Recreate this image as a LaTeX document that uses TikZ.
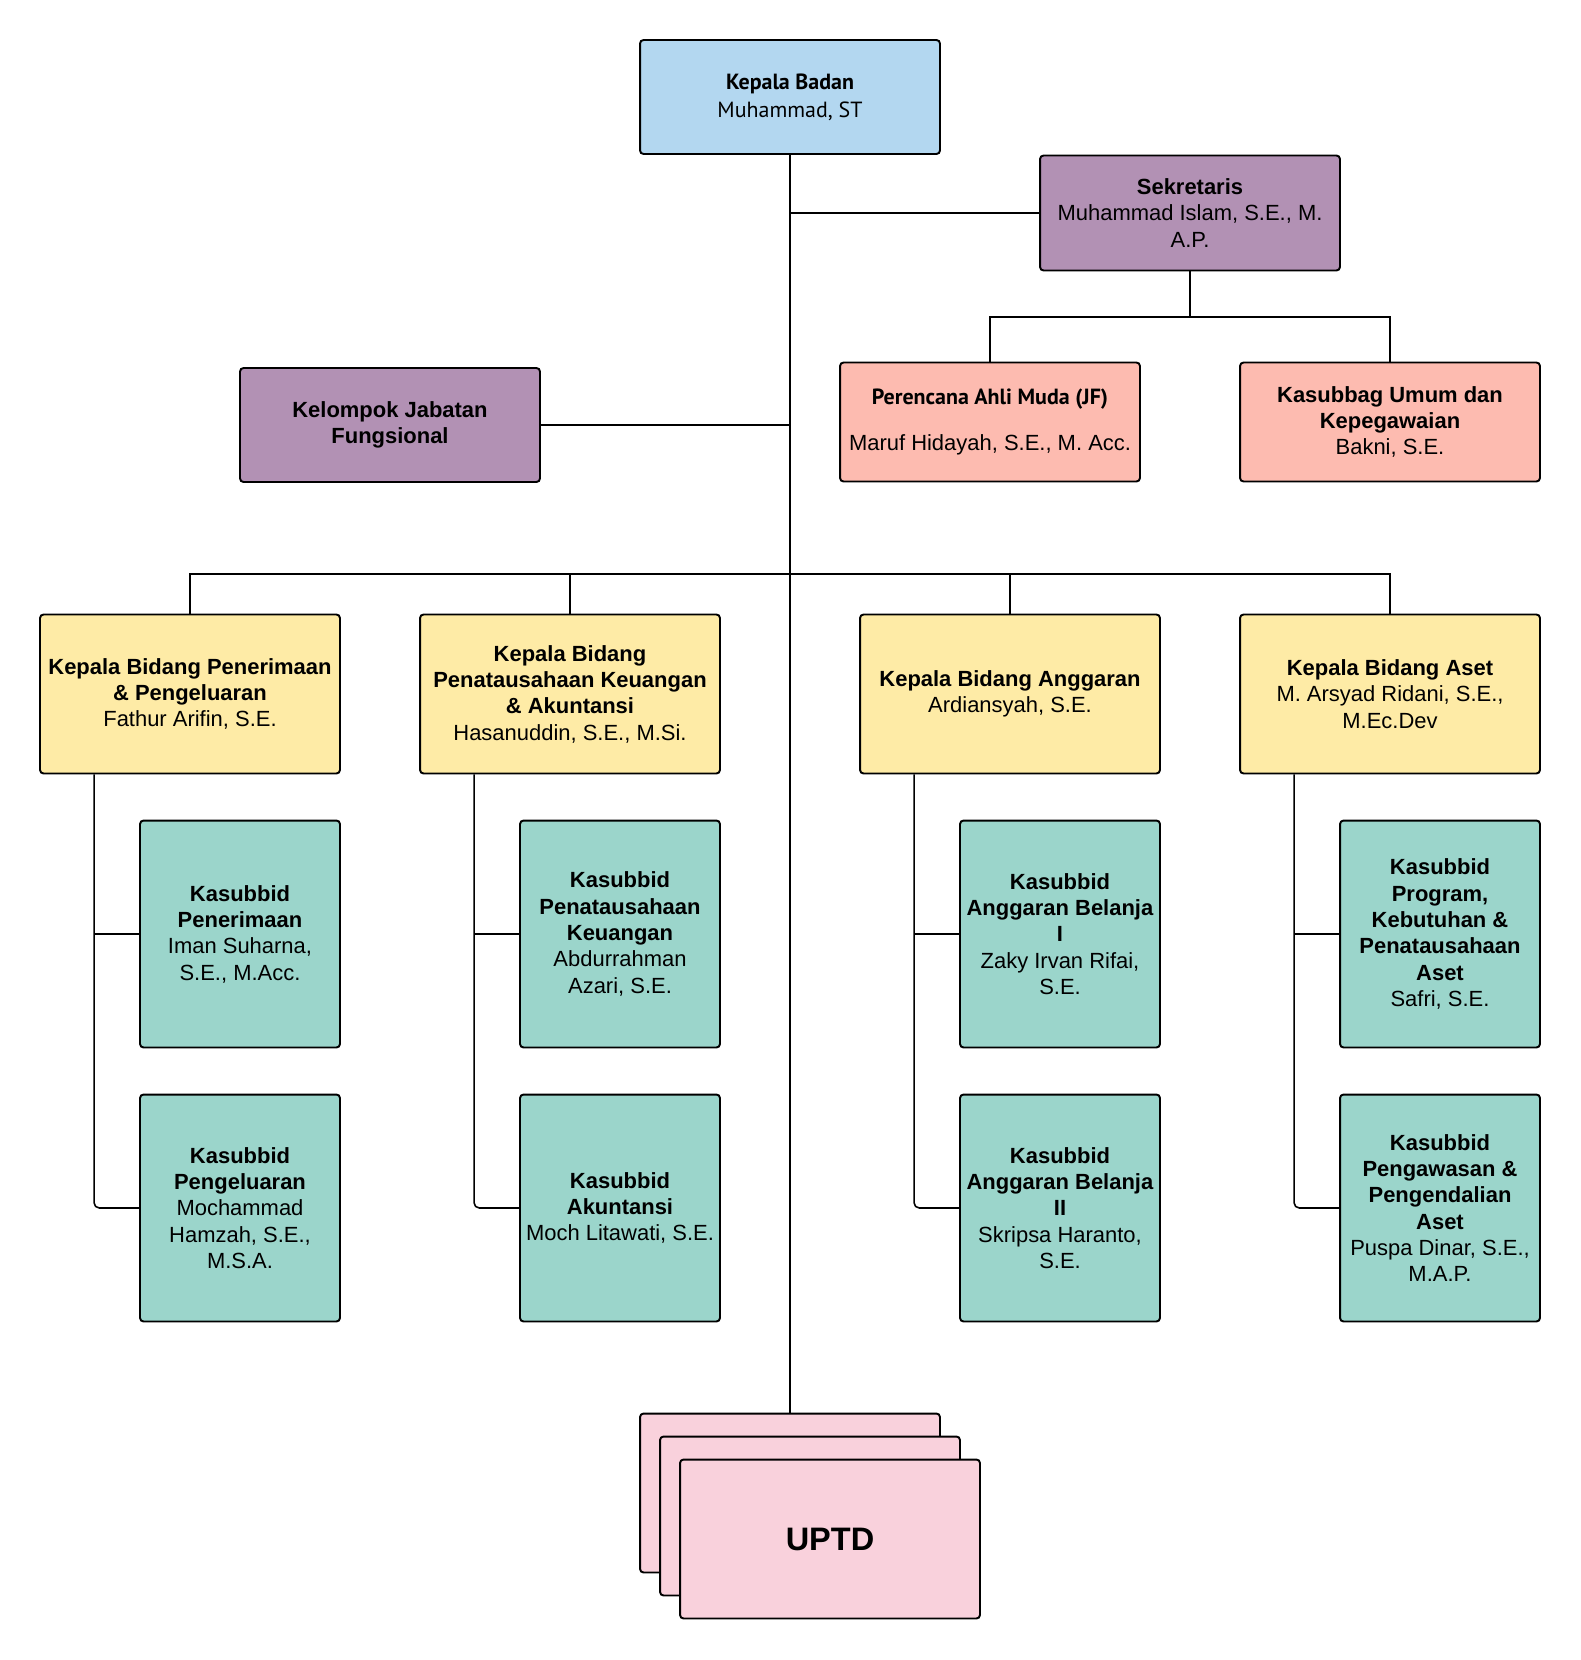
\documentclass[tikz,border=0pt]{standalone}
\usepackage{fontspec}
\setmainfont{Liberation Sans}
\newfontfamily\humanist{PT Sans}
\usetikzlibrary{calc}
\definecolor{kbblue}{RGB}{179,215,240}
\definecolor{sekpurple}{RGB}{178,145,180}
\definecolor{subsalmon}{RGB}{253,187,176}
\definecolor{bidyellow}{RGB}{254,235,166}
\definecolor{subteal}{RGB}{155,213,203}
\definecolor{uptdpink}{RGB}{249,209,220}

\begin{document}
\begin{tikzpicture}[x=0.02cm, y=-0.02cm,
  box/.style={draw, line width=1.1pt, rounded corners=2pt, align=center, inner sep=1pt, font=\fontsize{12.5}{15}\selectfont, minimum width=6cm},
  headbox/.style={box, fill=kbblue, minimum height=2.28cm},
  sekbox/.style={box, fill=sekpurple, minimum height=2.3cm},
  umbox/.style={box, fill=subsalmon, minimum height=2.38cm},
  bidbox/.style={box, fill=bidyellow, minimum height=3.18cm},
  subbox/.style={box, fill=subteal, minimum width=4cm, minimum height=4.54cm},
  uptdbox/.style={box, fill=uptdpink, minimum height=3.18cm, font=\fontsize{18.5}{22}\selectfont\bfseries},
  link/.style={line width=0.9pt}]
\useasboundingbox (0,0) rectangle (1580,1660);

\node[headbox, font=\fontsize{12.5}{16}\selectfont\humanist] (kb) at (790,97) {\textbf{Kepala Badan}\\Muhammad, ST};
\node[sekbox] (sek) at (1190,213) {\textbf{Sekretaris}\\Muhammad Islam, S.E., M.\\A.P.};
\node[sekbox, minimum height=2.28cm] (jf) at (390,425) {\textbf{Kelompok Jabatan}\\\textbf{Fungsional}};
\node[umbox] (per) at (990,422) {{\humanist\bfseries Perencana Ahli Muda (JF)}\\[11pt]Maruf Hidayah, S.E., M. Acc.};
\node[umbox] (kum) at (1390,422) {\textbf{Kasubbag Umum dan}\\\textbf{Kepegawaian}\\Bakni, S.E.};

\node[bidbox] (bid1) at (190,694) {\textbf{Kepala Bidang Penerimaan}\\\textbf{\& Pengeluaran}\\Fathur Arifin, S.E.};
\node[bidbox] (bid2) at (570,694) {\textbf{Kepala Bidang}\\\textbf{Penatausahaan Keuangan}\\\textbf{\& Akuntansi}\\Hasanuddin, S.E., M.Si.};
\node[bidbox] (bid3) at (1010,694) {\textbf{Kepala Bidang Anggaran}\\Ardiansyah, S.E.};
\node[bidbox] (bid4) at (1390,694) {\textbf{Kepala Bidang Aset}\\M. Arsyad Ridani, S.E.,\\M.Ec.Dev};

\node[subbox] (sub1a) at (240,934) {\textbf{Kasubbid}\\\textbf{Penerimaan}\\Iman Suharna,\\S.E., M.Acc.};
\node[subbox] (sub1b) at (240,1208) {\textbf{Kasubbid}\\\textbf{Pengeluaran}\\Mochammad\\Hamzah, S.E.,\\M.S.A.};
\node[subbox] (sub2a) at (620,934) {\textbf{Kasubbid}\\\textbf{Penatausahaan}\\\textbf{Keuangan}\\Abdurrahman\\Azari, S.E.};
\node[subbox] (sub2b) at (620,1208) {\textbf{Kasubbid}\\\textbf{Akuntansi}\\Moch Litawati, S.E.};
\node[subbox] (sub3a) at (1060,934) {\textbf{Kasubbid}\\\textbf{Anggaran Belanja}\\\textbf{I}\\Zaky Irvan Rifai,\\S.E.};
\node[subbox] (sub3b) at (1060,1208) {\textbf{Kasubbid}\\\textbf{Anggaran Belanja}\\\textbf{II}\\Skripsa Haranto,\\S.E.};
\node[subbox] (sub4a) at (1440,934) {\textbf{Kasubbid}\\\textbf{Program,}\\\textbf{Kebutuhan \&}\\\textbf{Penatausahaan}\\\textbf{Aset}\\Safri, S.E.};
\node[subbox] (sub4b) at (1440,1208) {\textbf{Kasubbid}\\\textbf{Pengawasan \&}\\\textbf{Pengendalian}\\\textbf{Aset}\\Puspa Dinar, S.E.,\\M.A.P.};

\node[uptdbox] (uptda) at (790,1493) {};
\node[uptdbox] (uptdb) at (810,1516) {};
\node[uptdbox] (uptd) at (830,1539) {UPTD};

\draw[link] (kb.south) -- (uptda.north);
\draw[link] (sek.west) -- (sek.west -| kb.south); \draw[link] (jf.east) -- (jf.east -| kb.south);
\coordinate (sekbus) at (1190,317);
\draw[link] (sek.south) -- (sekbus); \draw[link] (per.north) |- (sekbus) -| (kum.north);
\coordinate (bus) at (790,574);
\draw[link] (bid1.north) |- (bus) -| (bid4.north);
\foreach \b in {2,3} \draw[link] (bid\b.north) -- (bid\b.north |- bus);
\foreach \c in {1,...,4} {
  \coordinate (v\c) at ([xshift=1.1cm]bid\c.south west);
  \draw[link, rounded corners=3pt] (v\c) |- (sub\c b.west);
  \draw[link] (sub\c a.west) -- (sub\c a.west -| v\c);
}
\end{tikzpicture}
\end{document}
